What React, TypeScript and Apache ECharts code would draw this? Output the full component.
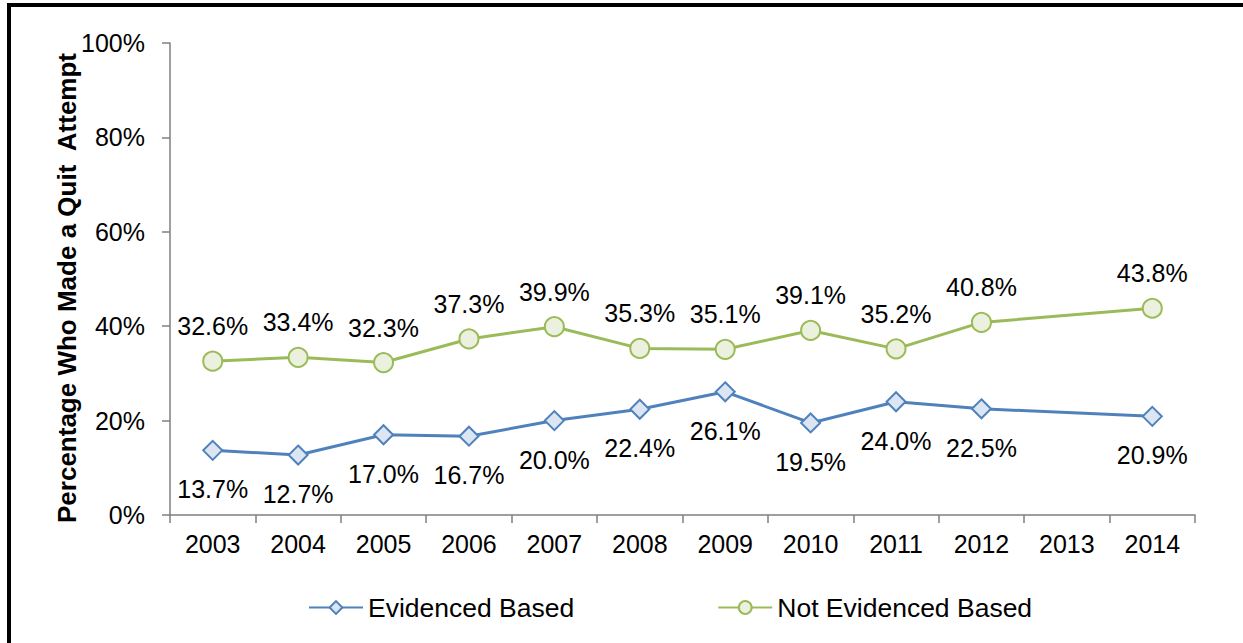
import React, { useEffect, useRef } from "react";
import * as echarts from "echarts";

const years = ["2003", "2004", "2005", "2006", "2007", "2008", "2009", "2010", "2011", "2012", "2013", "2014"];
const evidenced: (number | null)[] = [13.7, 12.7, 17.0, 16.7, 20.0, 22.4, 26.1, 19.5, 24.0, 22.5, null, 20.9];
const notEvidenced: (number | null)[] = [32.6, 33.4, 32.3, 37.3, 39.9, 35.3, 35.1, 39.1, 35.2, 40.8, null, 43.8];
const yTicks = [0, 20, 40, 60, 80, 100];

const FONT = "'Liberation Sans', Arial, sans-serif";

export default function App() {
  const ref = useRef<HTMLDivElement>(null);
  useEffect(() => {
    if (!ref.current) return;
    const chart = echarts.init(ref.current, null, { renderer: "svg" });
    const fmt = (p: any) => (p.value == null ? "" : Number(p.value).toFixed(1) + "%");
    chart.setOption({
      animation: false,
      backgroundColor: "#ffffff",
      textStyle: { fontFamily: FONT },
      grid: { left: 170, right: 48, top: 43, bottom: 128, containLabel: false },
      legend: {
        left: 303,
        top: 589,
        itemWidth: 54,
        itemHeight: 16,
        itemGap: 143,
        textStyle: { fontSize: 26.5, color: "#000", fontFamily: FONT },
        data: ["Evidenced Based", "Not Evidenced Based"],
      },
      xAxis: {
        type: "category",
        data: years,
        boundaryGap: true,
        axisLine: { lineStyle: { color: "#7f7f7f", width: 1.5 } },
        axisTick: { show: true, length: 8, lineStyle: { color: "#7f7f7f", width: 1.5 } },
        axisLabel: { color: "#000", fontSize: 25, margin: 16, fontFamily: FONT, interval: 0 },
      },
      yAxis: {
        type: "value",
        min: yTicks[0],
        max: yTicks[yTicks.length - 1],
        interval: 20,
        name: "Percentage Who Made a Quit  Attempt",
        nameLocation: "middle",
        nameGap: 90,
        nameRotate: 90,
        nameMoveOverlap: false,
        nameTextStyle: { fontSize: 26, fontWeight: "bold", color: "#000", fontFamily: FONT, padding: [0, 18, 0, 0] },
        splitLine: { show: false },
        axisLine: { show: true, lineStyle: { color: "#7f7f7f", width: 1.5 } },
        axisTick: { show: true, inside: false, length: 8, lineStyle: { color: "#7f7f7f", width: 1.5 } },
        axisLabel: { color: "#000", fontSize: 25, margin: 25, fontFamily: FONT, formatter: "{value}%" },
      },
      series: [
        {
          name: "Evidenced Based",
          type: "line",
          data: evidenced,
          connectNulls: true,
          symbol: "diamond",
          symbolSize: 19,
          lineStyle: { color: "#4f81bd", width: 3 },
          itemStyle: { color: "#dce6f2", borderColor: "#4f81bd", borderWidth: 2 },
          label: { show: true, position: "bottom", distance: 16, fontSize: 25, color: "#000", fontFamily: FONT, formatter: fmt },
        },
        {
          name: "Not Evidenced Based",
          type: "line",
          data: notEvidenced,
          connectNulls: true,
          symbol: "circle",
          symbolSize: 19,
          lineStyle: { color: "#9bbb59", width: 3 },
          itemStyle: { color: "#ebf1de", borderColor: "#9bbb59", borderWidth: 2 },
          label: { show: true, position: "top", distance: 12, fontSize: 25, color: "#000", fontFamily: FONT, formatter: fmt },
        },
      ],
      graphic: [
        { type: "line", shape: { x1: 9, y1: 3, x2: 9, y2: 643 }, style: { stroke: "#000", lineWidth: 4 } },
        { type: "line", shape: { x1: 7, y1: 5, x2: 1243, y2: 5 }, style: { stroke: "#000", lineWidth: 4 } },
      ],
    });
    return () => chart.dispose();
  }, []);
  return <div ref={ref} style={{ position: "fixed", left: 0, top: 0, width: 1243, height: 643 }} />;
}
